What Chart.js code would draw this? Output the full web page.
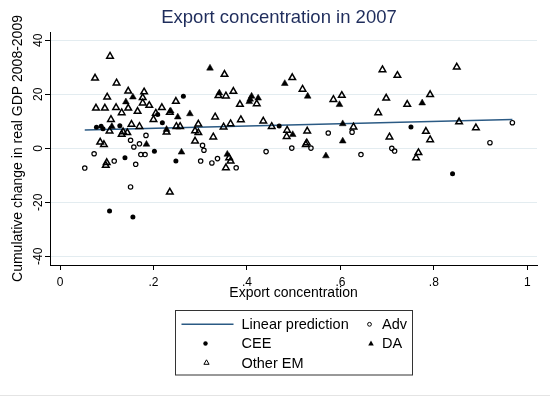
<!DOCTYPE html>
<html>
<head>
<meta charset="utf-8">
<title>Export concentration in 2007</title>
<script src="https://cdn.jsdelivr.net/npm/chart.js"></script>
<style>
  html, body { margin: 0; padding: 0; background: #ffffff; }
  #wrap { width: 550px; height: 396px; }
</style>
</head>
<body>
<div id="wrap"><canvas id="chart" width="550" height="396"></canvas></div>
<script>
// Axis ticks
const xTicks = [0, 0.2, 0.4, 0.6, 0.8, 1];
const yTicks = [-40, -20, 0, 20, 40];

// Country groups: [export concentration, cumulative change in real GDP 2008-2009]
const cee = [
  [0.264, 19.3], [0.209, 12.5], [0.219, 9.5], [0.078, 7.8], [0.088, 8.2],
  [0.092, 7.3], [0.128, 8.4], [0.202, -1.1], [0.139, -3.5], [0.248, -4.7],
  [0.106, -23.2], [0.156, -25.4], [0.469, 8.3], [0.751, 7.9], [0.840, -9.4]
];
const adv = [
  [0.184, 4.8], [0.151, 3.0], [0.170, 1.7], [0.158, 0.5], [0.305, 1.1],
  [0.308, -0.7], [0.073, -2.0], [0.173, -2.3], [0.182, -2.3], [0.116, -4.7],
  [0.162, -5.9], [0.053, -7.3], [0.301, -4.7], [0.325, -5.4], [0.337, -3.8],
  [0.151, -14.3], [0.574, 5.7], [0.496, 0.1], [0.537, 0.1], [0.441, -1.2],
  [0.625, 6.0], [0.644, -2.3], [0.377, -7.2], [0.968, 9.5], [0.710, 0.0],
  [0.716, -1.0], [0.920, 2.1]
];
const da = [
  [0.321, 29.7], [0.156, 19.0], [0.141, 17.2], [0.237, 13.8], [0.252, 11.6],
  [0.278, 12.8], [0.111, 8.1], [0.228, 7.0], [0.185, 1.5], [0.260, -1.4],
  [0.481, 24.0], [0.530, 19.3], [0.598, 16.2], [0.341, 20.5], [0.410, 19.3],
  [0.407, 18.2], [0.405, 17.3], [0.424, 18.6], [0.605, 9.1], [0.498, 5.1],
  [0.605, 2.7], [0.569, -2.8], [0.358, -2.2], [0.775, 16.8]
];
const otherEm = [
  [0.107, 34.1], [0.075, 26.0], [0.121, 24.2], [0.146, 21.2], [0.180, 20.9],
  [0.101, 19.0], [0.177, 18.8], [0.177, 16.8], [0.191, 15.9], [0.248, 17.4],
  [0.339, 19.5], [0.077, 14.9], [0.096, 14.9], [0.120, 15.1], [0.146, 14.9],
  [0.132, 13.2], [0.166, 13.7], [0.218, 15.1], [0.235, 13.3], [0.200, 10.7],
  [0.205, 13.0], [0.332, 11.6], [0.109, 10.7], [0.296, 9.0], [0.289, 6.5],
  [0.296, 5.8], [0.106, 6.4], [0.153, 8.9], [0.170, 8.1], [0.132, 5.2],
  [0.144, 5.8], [0.135, 6.1], [0.228, 6.0], [0.249, 8.1], [0.257, 8.1],
  [0.328, 4.2], [0.086, 2.3], [0.094, 1.4], [0.289, 2.7], [0.100, -5.3],
  [0.098, -6.3], [0.235, -16.2], [0.352, 27.4], [0.497, 26.2], [0.519, 21.9],
  [0.585, 18.1], [0.603, 19.6], [0.355, 19.4], [0.371, 21.1], [0.385, 16.3],
  [0.421, 16.5], [0.387, 10.6], [0.365, 9.1], [0.435, 10.1], [0.681, 13.2],
  [0.350, 7.9], [0.453, 8.1], [0.486, 6.7], [0.485, 4.4], [0.529, 6.4],
  [0.528, 2.0], [0.526, 1.4], [0.628, 7.9], [0.362, -3.5], [0.365, -4.7],
  [0.355, -7.2], [0.690, 29.1], [0.722, 27.0], [0.849, 30.1], [0.698, 18.6],
  [0.743, 16.3], [0.792, 19.9], [0.854, 9.8], [0.890, 7.6], [0.783, 6.3],
  [0.792, 3.2], [0.705, 4.2], [0.767, -1.6], [0.762, -3.5]
];

// Fitted line end points
const fitX = [0.053, 0.968];
const fitY = [6.8, 10.7];

const FONT = '"Liberation Sans", Arial, sans-serif';
const LINE_COLOR = '#2b5a84';
const toPoints = arr => arr.map(([x, y]) => ({ x, y }));
const fmtX = v => (v === 0 ? '0' : v === 1 ? '1' : String(v).replace(/^0\./, '.'));

// Title, legend box and bottom rule drawn on the same canvas
const decorations = {
  id: 'decorations',
  afterDraw(chart) {
    const ctx = chart.ctx;
    ctx.save();

    ctx.fillStyle = '#1f2d5c';
    ctx.font = '18.5px ' + FONT;
    ctx.textAlign = 'center';
    ctx.textBaseline = 'alphabetic';
    ctx.fillText('Export concentration in 2007', 279, 23.3);

    // legend frame
    ctx.strokeStyle = '#333333';
    ctx.lineWidth = 1;
    ctx.strokeRect(175.5, 310.5, 237, 64.5);

    // legend keys
    ctx.strokeStyle = LINE_COLOR;
    ctx.lineWidth = 1.5;
    ctx.beginPath();
    ctx.moveTo(181.5, 324.3);
    ctx.lineTo(233.5, 324.3);
    ctx.stroke();

    const tri = (x, y, r) => {
      ctx.beginPath();
      ctx.moveTo(x, y - r);
      ctx.lineTo(x + r * 0.866, y + r * 0.5);
      ctx.lineTo(x - r * 0.866, y + r * 0.5);
      ctx.closePath();
    };
    ctx.fillStyle = '#000';
    ctx.strokeStyle = '#000';
    ctx.lineWidth = 1;
    ctx.beginPath(); ctx.arc(369.5, 324.3, 1.9, 0, Math.PI * 2); ctx.stroke();
    ctx.beginPath(); ctx.arc(205.5, 343.5, 2.2, 0, Math.PI * 2); ctx.fill();
    tri(371, 343.8, 3.2); ctx.fill();
    tri(206.5, 362.8, 3.0); ctx.stroke();

    ctx.fillStyle = '#000';
    ctx.font = '14.5px ' + FONT;
    ctx.textAlign = 'left';
    ctx.fillText('Linear prediction', 241.5, 329.3);
    ctx.fillText('CEE', 241.5, 348.3);
    ctx.fillText('Other EM', 241.5, 367.7);
    ctx.fillText('Adv', 382, 329.3);
    ctx.fillText('DA', 382, 348.3);

    // faint rule along the bottom edge
    ctx.strokeStyle = '#e4e4e4';
    ctx.lineWidth = 1;
    ctx.beginPath();
    ctx.moveTo(0, 395.5);
    ctx.lineTo(550, 395.5);
    ctx.stroke();

    ctx.restore();
  }
};

new Chart(document.getElementById('chart'), {
  type: 'scatter',
  data: {
    datasets: [
      {
        label: 'CEE',
        data: toPoints(cee),
        pointStyle: 'circle',
        pointRadius: 2.5,
        backgroundColor: '#000',
        borderColor: '#000',
        borderWidth: 0
      },
      {
        label: 'Adv',
        data: toPoints(adv),
        pointStyle: 'circle',
        pointRadius: 2.2,
        backgroundColor: 'rgba(255,255,255,0)',
        borderColor: '#000',
        borderWidth: 1.2
      },
      {
        label: 'DA',
        data: toPoints(da),
        pointStyle: 'triangle',
        pointRadius: 3.9,
        backgroundColor: '#000',
        borderColor: '#000',
        borderWidth: 0.5
      },
      {
        label: 'Other EM',
        data: toPoints(otherEm),
        pointStyle: 'triangle',
        pointRadius: 3.8,
        backgroundColor: 'rgba(255,255,255,0)',
        borderColor: '#000',
        borderWidth: 1.5
      },
      {
        label: 'Linear prediction',
        data: fitX.map((x, i) => ({ x, y: fitY[i] })),
        showLine: true,
        pointRadius: 0,
        borderColor: LINE_COLOR,
        borderWidth: 1.5,
        fill: false
      }
    ]
  },
  options: {
    responsive: false,
    animation: false,
    devicePixelRatio: 1,
    layout: { padding: { left: 0, right: 13, top: 32, bottom: 96 } },
    plugins: {
      legend: { display: false },
      tooltip: { enabled: false },
      title: { display: false }
    },
    scales: {
      x: {
        type: 'linear',
        min: -0.0214,
        max: 1.0207,
        afterBuildTicks: s => { s.ticks = xTicks.map(v => ({ value: v })); },
        afterFit: s => { s.height = 35; },
        ticks: {
          callback: v => fmtX(v),
          font: { family: FONT, size: 12 },
          color: '#000',
          padding: 5.5,
          maxRotation: 0,
          autoSkip: false
        },
        grid: { drawOnChartArea: false, tickLength: 5, tickColor: '#000' },
        border: { color: '#000', width: 1 },
        title: {
          display: true,
          text: 'Export concentration',
          font: { family: FONT, size: 14 },
          color: '#000',
          padding: { top: 0, bottom: -1.5 }
        }
      },
      y: {
        type: 'linear',
        min: -43.2,
        max: 43.1,
        afterBuildTicks: s => { s.ticks = yTicks.map(v => ({ value: v })); },
        afterFit: s => { s.width = 50; },
        ticks: {
          font: { family: FONT, size: 12 },
          color: '#000',
          minRotation: 90,
          maxRotation: 90,
          crossAlign: 'center',
          padding: -2,
          autoSkip: false
        },
        grid: { color: '#e3ecf0', lineWidth: 1, tickLength: 5, tickColor: '#000' },
        border: { color: '#000', width: 1 },
        title: {
          display: true,
          text: 'Cumulative change in real GDP 2008-2009',
          font: { family: FONT, size: 14 },
          color: '#000',
          padding: { top: 9.5, bottom: 0 }
        }
      }
    }
  },
  plugins: [decorations]
});
</script>
</body>
</html>
